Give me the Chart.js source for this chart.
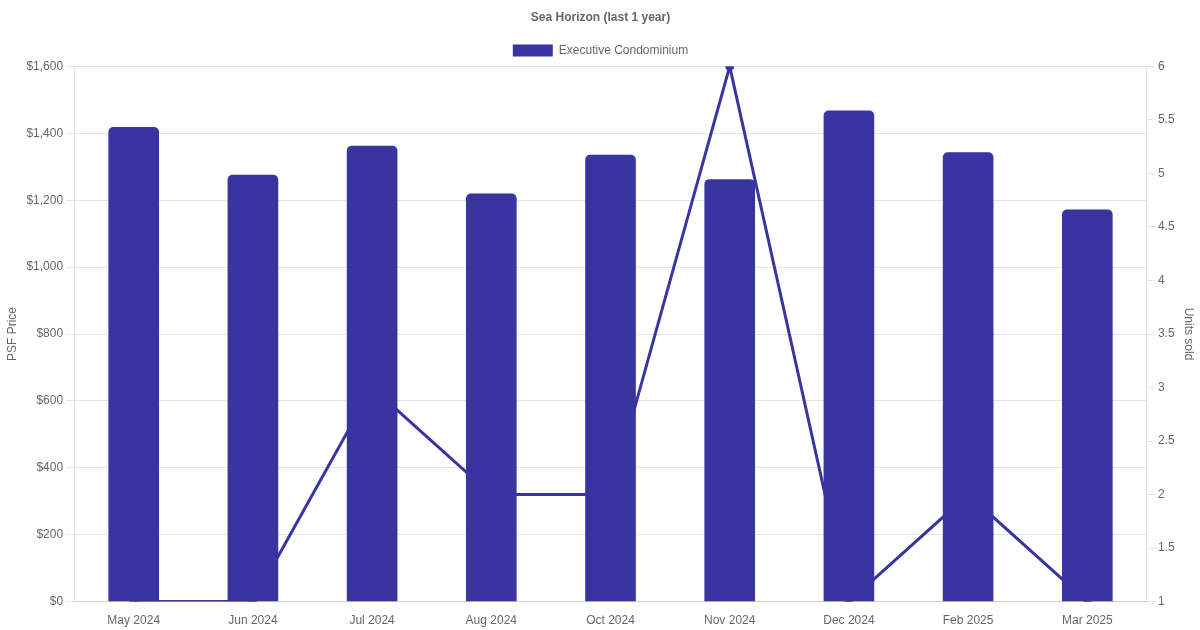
<!DOCTYPE html>
<html lang="en">
<head>
  <meta charset="UTF-8">
  <title>Sea Horizon (last 1 year)</title>
  <script src="https://cdn.jsdelivr.net/npm/chart.js"></script>
  <style>
    body {
      margin: 0;
      background: #fff;
    }
    .chart-box {
      width: 1200px;
      height: 630px;
    }
  </style>
</head>
<body>
  <div class="chart-box">
    <canvas id="psfChart"></canvas>
  </div>

  <script>
    // Data
    const months = ["May 2024", "Jun 2024", "Jul 2024", "Aug 2024", "Oct 2024", "Nov 2024", "Dec 2024", "Feb 2025", "Mar 2025"];
    const psfPrice = [1418, 1275, 1362, 1219, 1335, 1262, 1467, 1342, 1171];
    const unitsSold = [1, 1, 3, 2, 2, 6, 1, 2, 1];

    const barColor = "rgb(57, 53, 160)";

    Chart.defaults.font.family = "'Liberation Sans', 'Helvetica Neue', Arial, sans-serif";
    Chart.defaults.font.size = 12;
    Chart.defaults.color = "#666";

    const psfChart = new Chart(document.getElementById("psfChart"), {
      type: "bar",
      data: {
        labels: months,
        datasets: [
          {
            label: "Executive Condominium",
            data: psfPrice,
            backgroundColor: barColor,
            borderRadius: 5,
            borderSkipped: "bottom",
            barThickness: 50,
            yAxisID: "y",
            order: 1
          },
          {
            type: "line",
            label: "Units sold",
            data: unitsSold,
            borderColor: barColor,
            backgroundColor: barColor,
            borderWidth: 3,
            pointRadius: 3,
            tension: 0,
            fill: false,
            yAxisID: "y1",
            order: 2
          }
        ]
      },
      options: {
        responsive: true,
        maintainAspectRatio: false,
        animation: false,
        layout: {
          padding: { left: 1, bottom: -2 }
        },
        plugins: {
          title: {
            display: true,
            text: "Sea Horizon (last 1 year)",
            font: { size: 12, weight: "bold" },
            padding: { top: 10, bottom: 10 }
          },
          legend: {
            position: "top",
            labels: {
              boxWidth: 40,
              boxHeight: 12,
              filter: (item) => item.datasetIndex === 0
            }
          },
          tooltip: { enabled: false }
        },
        scales: {
          x: {
            grid: { display: false },
            ticks: { padding: 4 }
          },
          y: {
            position: "left",
            min: 0,
            max: 1600,
            ticks: {
              stepSize: 200,
              callback: (v) => "$" + v.toLocaleString("en-US")
            },
            title: { display: true, text: "PSF Price" }
          },
          y1: {
            position: "right",
            min: 1,
            max: 6,
            ticks: {
              stepSize: 0.5,
              callback: (v) => String(v)
            },
            grid: { drawOnChartArea: false },
            title: { display: true, text: "Units sold" }
          }
        }
      }
    });
  </script>
</body>
</html>
